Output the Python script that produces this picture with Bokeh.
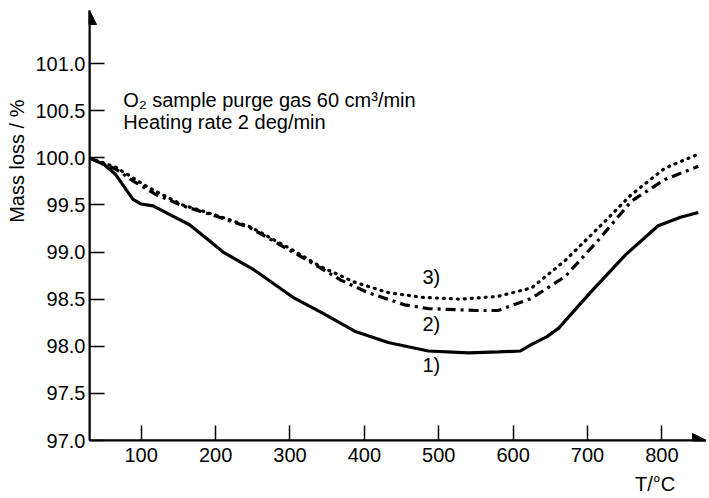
from bokeh.plotting import figure
from bokeh.models import (Range1d, FixedTicker, NumeralTickFormatter, Label, Arrow, NormalHead,
                          Title, LinearAxis)
from bokeh.embed import file_html
from bokeh.resources import INLINE

# ---- data ----
t1 = [30, 50, 66, 80, 89, 100, 116, 138, 165, 190, 210, 250, 304, 342, 387, 432, 486, 540, 580, 610, 625, 645, 661, 705, 751, 795, 825, 849]
m1 = [100.0, 99.93, 99.82, 99.66, 99.56, 99.51, 99.49, 99.40, 99.29, 99.13, 99.00, 98.82, 98.52, 98.36, 98.16, 98.04, 97.95, 97.93, 97.94, 97.95, 98.02, 98.10, 98.19, 98.58, 98.97, 99.28, 99.37, 99.42]

t2 = [30, 66, 90, 120, 156, 201, 246, 304, 324, 369, 405, 454, 486, 549, 580, 625, 670, 715, 759, 804, 849]
m2 = [100.0, 99.88, 99.75, 99.61, 99.49, 99.38, 99.26, 99.00, 98.91, 98.70, 98.57, 98.44, 98.40, 98.38, 98.38, 98.51, 98.74, 99.13, 99.54, 99.77, 99.91]

t3 = [30, 66, 111, 156, 201, 246, 304, 340, 387, 432, 477, 530, 580, 625, 670, 715, 759, 804, 849]
m3 = [100.0, 99.90, 99.68, 99.50, 99.39, 99.27, 99.02, 98.85, 98.68, 98.57, 98.52, 98.50, 98.53, 98.62, 98.91, 99.26, 99.61, 99.89, 100.04]

curve_labels = ["1)", "2)", "3)"]
label_t = [490, 490, 490]
label_m = [97.80, 98.24, 98.74]

x_ticks = [100, 200, 300, 400, 500, 600, 700, 800]
y_ticks = [97.0, 97.5, 98.0, 98.5, 99.0, 99.5, 100.0, 100.5, 101.0]

note1 = "O\u2082 sample purge gas 60 cm\u00b3/min"
note2 = "Heating rate  2 deg/min"
x_title = "T/\u00b0C"
x_title_at = 791
y_title = "Mass loss / %"

FONT = "Liberation Sans"
X0, X1 = 30.5, 860
Y0, Y1 = 97.0, 101.564

p = figure(width=706, height=497, x_range=Range1d(X0, X1), y_range=Range1d(Y0, Y1),
           output_backend="svg", toolbar_location=None,
           min_border_left=89, min_border_right=0, min_border_top=10, min_border_bottom=56)
p.outline_line_color = None
p.xgrid.visible = False
p.ygrid.visible = False
p.background_fill_color = "white"
p.border_fill_color = "white"

for ax in (p.xaxis[0], p.yaxis[0]):
    ax.axis_line_width = 2
    ax.axis_line_color = "black"
    ax.major_tick_in = 15
    ax.major_tick_out = 0
    ax.major_tick_line_width = 1.5
    ax.minor_tick_line_color = None
    ax.major_label_text_font = FONT
    ax.major_label_text_font_size = "20px"
    ax.major_label_text_color = "black"

p.xaxis.ticker = FixedTicker(ticks=x_ticks)
p.yaxis.ticker = FixedTicker(ticks=y_ticks)
p.yaxis.formatter = NumeralTickFormatter(format="0.0")
p.xaxis.major_label_standoff = 7
p.yaxis.major_label_standoff = 4

# x title as a second, line-less axis below the first one
x_title_axis = LinearAxis(ticker=FixedTicker(ticks=[x_title_at]),
                          major_label_overrides={x_title_at: x_title},
                          axis_line_color=None, major_tick_line_color=None,
                          minor_tick_line_color=None, major_tick_in=0, major_tick_out=0,
                          major_label_standoff=8, major_label_text_font=FONT,
                          major_label_text_font_size="20px", major_label_text_color="black")
p.add_layout(x_title_axis, "below")

# y title in the left panel
p.add_layout(Title(text=y_title, align="right", offset=89, standoff=6, vertical_align="top",
                   text_font=FONT, text_font_size="20px", text_font_style="normal",
                   text_color="black"), "left")

# arrow heads on axes
p.add_layout(Arrow(end=NormalHead(size=14, fill_color="black", line_color="black"),
                   x_start=X0, y_start=Y0, x_end=X1, y_end=Y0, line_width=2, line_color="black"))
p.add_layout(Arrow(end=NormalHead(size=14, fill_color="black", line_color="black"),
                   x_start=X0, y_start=Y0, x_end=X0, y_end=Y1, line_width=2, line_color="black"))

p.line(t1, m1, line_color="black", line_width=3.2)
p.line(t2, m2, line_color="black", line_width=3.2, line_dash="10 5 3 5")
p.line(t3, m3, line_color="black", line_width=3.2, line_dash="1 6", line_cap="round")

for txt, tx, my in zip(curve_labels, label_t, label_m):
    p.add_layout(Label(x=tx, y=my, text=txt, text_align="center", text_baseline="middle",
                       text_font=FONT, text_font_size="20px", text_color="black"))

p.add_layout(Label(x=76, y=100.617, text=note1, text_align="left", text_baseline="alphabetic",
                   text_font=FONT, text_font_size="20px", text_color="black"))
p.add_layout(Label(x=76, y=100.381, text=note2, text_align="left", text_baseline="alphabetic",
                   text_font=FONT, text_font_size="20px", text_color="black"))

open("out.html", "w").write(file_html(p, INLINE))
